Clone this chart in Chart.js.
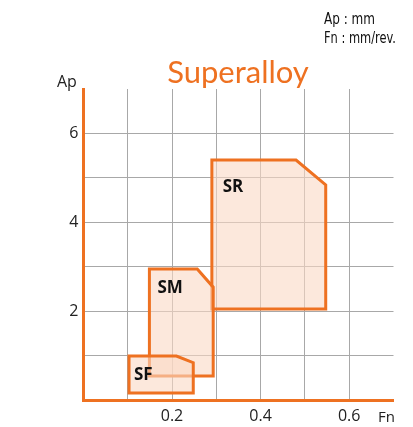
<!DOCTYPE html>
<html>
<head>
  <title>Superalloy</title>
  <script src="https://cdn.jsdelivr.net/npm/chart.js@4/dist/chart.umd.min.js"></script>
  <style>
    html, body { margin: 0; padding: 0; background: #fff; }
    #wrap { width: 413px; height: 427px; }
  </style>
</head>
<body>
  <div id="wrap"><canvas id="myChart" width="413" height="427"></canvas></div>
<script>

    // Chip breaker ranges: feed Fn (mm/rev.) against depth of cut Ap (mm)
    const regions = ['SR', 'SM', 'SF'];
    const srFn = [0.29, 0.48, 0.547, 0.547, 0.29, 0.29];
    const srAp = [5.40, 5.40, 4.84, 2.05, 2.05, 5.40];
    const smFn = [0.149, 0.257, 0.293, 0.293, 0.149, 0.149];
    const smAp = [2.95, 2.95, 2.54, 0.54, 0.54, 2.95];
    const sfFn = [0.103, 0.21, 0.248, 0.248, 0.103, 0.103];
    const sfAp = [0.99, 0.99, 0.84, 0.16, 0.16, 0.99];

    // Tick labels shown on the axes
    const fnLabels = [0.2, 0.4, 0.6];
    const apLabels = [2, 4, 6];

    const ORANGE = '#ee7121';
    const FILL = 'rgba(250, 217, 197, 0.6)';
    const GRID = '#a8a8a8';

    // Where each region name is written (in axis units)
    const labelPos = { SR: [0.3145, 4.69], SM: [0.167, 2.41], SF: [0.114, 0.45] };

    function toPoints(fn, ap) {
      return fn.map((v, i) => ({ x: v, y: ap[i] }));
    }

    function regionDataset(name, fn, ap, order) {
      return {
        label: name,
        data: toPoints(fn, ap),
        showLine: true,
        fill: 'shape',
        backgroundColor: FILL,
        borderColor: ORANGE,
        borderWidth: 3,
        borderJoinStyle: 'miter',
        borderCapStyle: 'square',
        tension: 0,
        pointRadius: 0,
        order: order
      };
    }

    // Title, axis names, units and region names
    const textPlugin = {
      id: 'texts',
      afterDraw(chart) {
        const ctx = chart.ctx;
        const xs = chart.scales.x;
        const ys = chart.scales.y;
        ctx.save();
        ctx.textBaseline = 'alphabetic';

        ctx.fillStyle = ORANGE;
        ctx.font = "31px Lato, 'Open Sans', sans-serif";
        ctx.textAlign = 'center';
        ctx.fillText('Superalloy', 238, 83);

        // units block, squeezed to a narrow width
        ctx.fillStyle = '#111';
        ctx.textAlign = 'left';
        ctx.font = "15px 'Liberation Sans Narrow', 'DejaVu Sans Condensed', sans-serif";
        ctx.fillText('Ap : mm', 324, 24, 51);
        ctx.fillText('Fn : mm/rev.', 324, 43, 72);

        ctx.fillStyle = '#222';
        ctx.font = "16px 'Open Sans', sans-serif";
        ctx.fillText('Ap', 57, 87);
        ctx.font = "15px 'Open Sans', sans-serif";
        ctx.fillText('Fn', 378, 422);

        ctx.fillStyle = '#111';
        ctx.font = "bold 17px 'Open Sans', sans-serif";
        regions.forEach(name => {
          const p = labelPos[name];
          ctx.fillText(name, xs.getPixelForValue(p[0]), ys.getPixelForValue(p[1]));
        });
        ctx.restore();
      }
    };

    function isShown(list, value) {
      return list.some(v => Math.abs(v - value) < 1e-6);
    }

    Chart.defaults.font.family = "'Open Sans', sans-serif";

    new Chart(document.getElementById('myChart'), {
      type: 'scatter',
      data: {
        datasets: [
          regionDataset('SF', sfFn, sfAp, 1),
          regionDataset('SM', smFn, smAp, 2),
          regionDataset('SR', srFn, srAp, 3)
        ]
      },
      options: {
        responsive: false,
        animation: false,
        layout: { padding: { top: 89, right: 19.5, left: 0, bottom: 0 } },
        plugins: {
          legend: { display: false },
          tooltip: { enabled: false },
          title: { display: false }
        },
        scales: {
          x: {
            type: 'linear',
            min: 0,
            max: 0.7,
            afterFit: scale => { scale.height = 27; },
            border: { color: ORANGE, width: 3 },
            grid: {
              drawTicks: false,
              color: c => (c.tick.value > 0.001 && c.tick.value < 0.699) ? GRID : 'rgba(0,0,0,0)'
            },
            ticks: {
              stepSize: 0.1,
              padding: 7,
              color: '#222',
              font: { size: 16 },
              maxRotation: 0,
              autoSkip: false,
              callback: v => isShown(fnLabels, v) ? (Math.round(v * 10) / 10).toFixed(1) : ''
            }
          },
          y: {
            type: 'linear',
            min: 0,
            max: 7,
            afterFit: scale => { scale.width = 83.4; },
            border: { color: ORANGE, width: 3 },
            grid: {
              drawTicks: false,
              color: c => (c.tick.value > 0 && c.tick.value < 7) ? GRID : 'rgba(0,0,0,0)'
            },
            ticks: {
              stepSize: 1,
              padding: 5,
              color: '#222',
              font: { size: 16 },
              callback: v => isShown(apLabels, v) ? String(v) : ''
            }
          }
        }
      },
      plugins: [textPlugin]
    });
  </script>
</body>
</html>
